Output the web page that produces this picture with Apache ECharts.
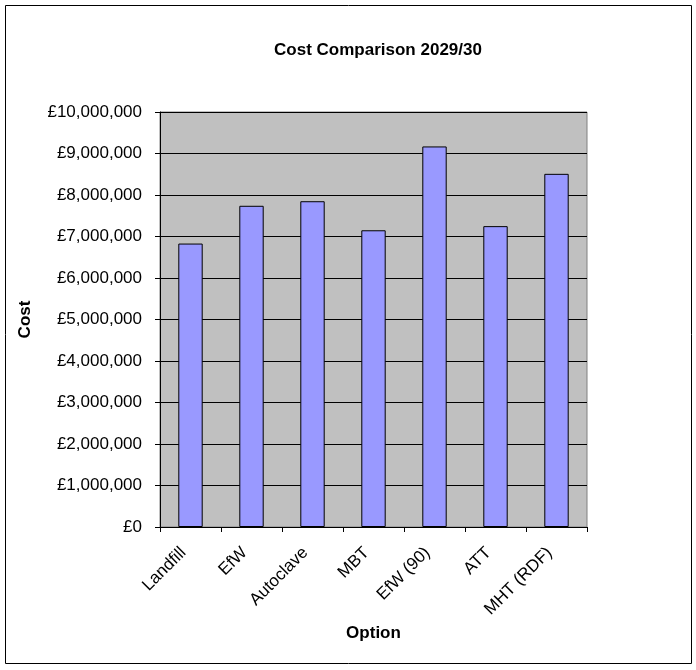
<!DOCTYPE html>
<html>
<head>
<meta charset="utf-8">
<script src="https://cdn.jsdelivr.net/npm/echarts@6/dist/echarts.min.js"></script>
<style>
  html, body { margin: 0; padding: 0; background: #fff; }
  #chart { width: 696px; height: 670px; }
</style>
</head>
<body>
<div id="chart"></div>
<script>
// data
const options = ['Landfill', 'EfW', 'Autoclave', 'MBT', 'EfW (90)', 'ATT', 'MHT (RDF)']
const costs = [6830000, 7740000, 7850000, 7150000, 9170000, 7250000, 8510000]

const myChart = echarts.init(document.getElementById('chart'))

const fmt = v => '£' + v.toLocaleString('en-GB')

myChart.setOption({
  animation: false,
  textStyle: { fontFamily: 'Liberation Sans, Arial, sans-serif' },
  title: {
    text: 'Cost Comparison 2029/30',
    left: 373, top: 37, textAlign: 'center',
    textStyle: { fontSize: 17, fontWeight: 'bold', color: '#000' }
  },
  graphic: [{
    type: 'rect', left: 5, top: 5, z: -1,
    shape: { width: 686, height: 658 },
    style: { fill: '#fff', stroke: '#000', lineWidth: 1 }
  }],
  grid: {
    left: 160, right: 109, top: 112, bottom: 143,
    show: true, backgroundColor: '#C0C0C0', borderColor: '#808080', borderWidth: 1
  },
  xAxis: {
    type: 'category',
    data: options,
    name: 'Option',
    nameLocation: 'middle',
    nameGap: 88,
    nameTextStyle: { fontSize: 17, fontWeight: 'bold', color: '#000' },
    axisLine: { lineStyle: { color: '#000' } },
    axisTick: { show: true, length: 5, lineStyle: { color: '#000' } },
    axisLabel: { rotate: 45, margin: 16, padding: [0, 10, 0, 0], fontSize: 17, color: '#000' }
  },
  yAxis: {
    type: 'value',
    min: 0, max: 10000000, interval: 1000000,
    name: 'Cost',
    nameLocation: 'middle',
    nameGap: 126,
    nameRotate: 90,
    nameTextStyle: { fontSize: 17, fontWeight: 'bold', color: '#000' },
    axisLine: { show: true, lineStyle: { color: '#000' } },
    axisTick: { show: true, length: 5, lineStyle: { color: '#000' } },
    axisLabel: { formatter: fmt, fontSize: 17, color: '#000', margin: 18 },
    splitLine: { lineStyle: { color: '#000', width: 1 } }
  },
  series: [{
    type: 'bar',
    data: costs,
    barWidth: '40%',
    itemStyle: { color: '#9999FF', borderColor: '#000', borderWidth: 1 }
  }]
})
</script>
</body>
</html>
